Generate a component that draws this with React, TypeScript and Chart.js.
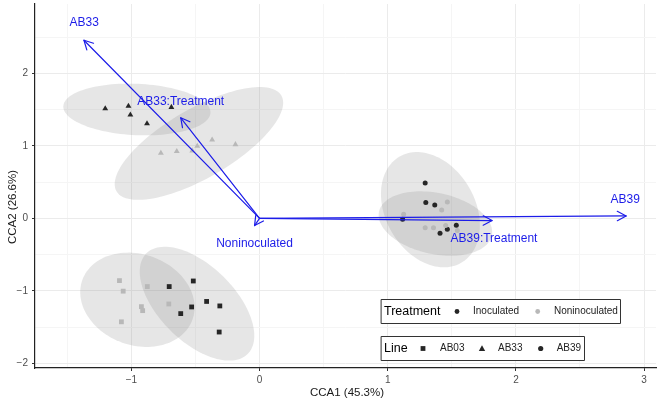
import React, { useEffect, useRef } from 'react';
import { Chart, registerables } from 'chart.js';

Chart.register(...registerables);

const FONT = '"Liberation Sans", Arial, Helvetica, sans-serif';

// ---- Axis ranges / tick labels ----
const X_MIN = -1.752;
const X_MAX = 3.093;
const Y_MIN = -2.064;
const Y_MAX = 2.956;
const X_TITLE = 'CCA1 (45.3%)';
const Y_TITLE = 'CCA2 (26.6%)';

// ---- Site scores (CCA1, CCA2) ----
// Line AB03 (squares)
const ab03InocX = [-0.705, -0.517, -0.413, -0.31, -0.53, -0.615, -0.315];
const ab03InocY = [-0.941, -0.864, -1.146, -1.208, -1.222, -1.314, -1.568];
const ab03NonX = [-1.093, -1.064, -0.876, -0.922, -0.912, -0.708, -1.078];
const ab03NonY = [-0.859, -1.004, -0.941, -1.218, -1.273, -1.181, -1.427];
// Line AB33 (triangles)
const ab33InocX = [-1.204, -1.023, -1.008, -0.878, -0.688];
const ab33InocY = [1.514, 1.547, 1.428, 1.306, 1.533];
const ab33NonX = [-0.77, -0.646, -0.525, -0.486, -0.37, -0.188];
const ab33NonY = [0.9, 0.924, 0.933, 0.996, 1.083, 1.019];
// Line AB39 (circles)
const ab39InocX = [1.292, 1.297, 1.367, 1.116, 1.535, 1.465, 1.408];
const ab39InocY = [0.487, 0.218, 0.183, -0.014, -0.095, -0.15, -0.205];
const ab39NonX = [1.465, 1.421, 1.124, 1.292, 1.357, 1.452, 1.543];
const ab39NonY = [0.224, 0.115, 0.055, -0.131, -0.131, -0.1, -0.168];

// ---- Biplot arrows ----
const arrowNames = ['AB33', 'AB33:Treatment', 'AB39', 'AB39:Treatment', 'Noninoculated'];
const arrowX = [-1.37, -0.615, 2.86, 1.814, -0.039];
const arrowY = [2.456, 1.387, 0.033, -0.031, -0.1];
const labelX = [-1.368, -0.615, 2.853, 1.829, -0.039];
const labelY = [2.697, 1.615, 0.259, -0.277, -0.355];

// ---- Confidence ellipses: centre and two half-axis vectors (data units) ----
const ellCX = [-0.957, -0.473, 1.333, 1.372, -0.953, -0.488];
const ellCY = [1.501, 1.033, 0.119, -0.072, -1.123, -1.177];
const ellAX = [0.574, 0.643, 0.24, 0.44, 0.429, 0.395];
const ellAY = [-0.045, 0.66, -0.733, -0.165, -0.276, -0.694];
const ellBX = [-0.009, 0.136, -0.302, -0.05, -0.122, -0.209];
const ellBY = [-0.354, -0.412, -0.307, -0.413, -0.589, -0.367];

// ---- Legend texts ----
const treatmentTitle = 'Treatment';
const treatmentLabels = ['Inoculated', 'Noninoculated'];
const lineTitle = 'Line';
const lineLabels = ['AB03', 'AB33', 'AB39'];

const DARK = '#262626';
const LIGHT = '#b8b8b8';
const BLUE = 'rgb(28,28,232)';

function pts(xs: number[], ys: number[]) {
  return xs.map((x, i) => ({ x, y: ys[i] }));
}

function ds(xs: number[], ys: number[], color: string, style: string, r: number) {
  return {
    data: pts(xs, ys),
    pointStyle: style,
    pointRadius: r,
    pointBackgroundColor: color,
    pointBorderColor: color,
    pointBorderWidth: 0,
    showLine: false,
  };
}

const overlayPlugin = {
  id: 'overlay',
  beforeDatasetsDraw(chart: any) {
    const ctx = chart.ctx;
    const xs = chart.scales.x;
    const ys = chart.scales.y;
    const area = chart.chartArea;
    ctx.save();
    ctx.beginPath();
    ctx.rect(area.left, area.top, area.right - area.left, area.bottom - area.top);
    ctx.clip();
    for (let i = 0; i < ellCX.length; i++) {
      ctx.beginPath();
      const n = 120;
      for (let k = 0; k <= n; k++) {
        const t = (k / n) * Math.PI * 2;
        const vx = ellCX[i] + Math.cos(t) * ellAX[i] + Math.sin(t) * ellBX[i];
        const vy = ellCY[i] + Math.cos(t) * ellAY[i] + Math.sin(t) * ellBY[i];
        const px = xs.getPixelForValue(vx);
        const py = ys.getPixelForValue(vy);
        if (k === 0) ctx.moveTo(px, py);
        else ctx.lineTo(px, py);
      }
      ctx.closePath();
      ctx.fillStyle = 'rgba(128,128,128,0.2)';
      ctx.fill();
    }
    ctx.restore();
  },
  afterDatasetsDraw(chart: any) {
    const ctx = chart.ctx;
    const xs = chart.scales.x;
    const ys = chart.scales.y;
    const ox = xs.getPixelForValue(0);
    const oy = ys.getPixelForValue(0);
    ctx.save();
    // arrows
    ctx.strokeStyle = BLUE;
    ctx.lineWidth = 1.2;
    ctx.lineCap = 'round';
    ctx.lineJoin = 'round';
    for (let i = 0; i < arrowX.length; i++) {
      const tx = xs.getPixelForValue(arrowX[i]);
      const ty = ys.getPixelForValue(arrowY[i]);
      ctx.beginPath();
      ctx.moveTo(ox, oy);
      ctx.lineTo(tx, ty);
      ctx.stroke();
      const ang = Math.atan2(ty - oy, tx - ox);
      const len = 10;
      const spread = (28 * Math.PI) / 180;
      ctx.beginPath();
      ctx.moveTo(tx - len * Math.cos(ang - spread), ty - len * Math.sin(ang - spread));
      ctx.lineTo(tx, ty);
      ctx.lineTo(tx - len * Math.cos(ang + spread), ty - len * Math.sin(ang + spread));
      ctx.stroke();
    }
    // arrow labels
    ctx.fillStyle = BLUE;
    ctx.font = `12px ${FONT}`;
    ctx.textAlign = 'center';
    ctx.textBaseline = 'middle';
    for (let i = 0; i < arrowNames.length; i++) {
      ctx.fillText(arrowNames[i], xs.getPixelForValue(labelX[i]), ys.getPixelForValue(labelY[i]));
    }

    // legends
    const drawBox = (x: number, y: number, w: number, h: number) => {
      ctx.fillStyle = '#ffffff';
      ctx.fillRect(x, y, w, h);
      ctx.strokeStyle = '#333333';
      ctx.lineWidth = 1;
      ctx.strokeRect(x + 0.5, y + 0.5, w, h);
    };
    ctx.textAlign = 'left';
    ctx.textBaseline = 'middle';
    // Treatment legend
    drawBox(381, 299, 239, 24);
    let cy = 311.5;
    ctx.fillStyle = '#000';
    ctx.font = `12.5px ${FONT}`;
    ctx.fillText(treatmentTitle, 384, cy);
    ctx.font = `10px ${FONT}`;
    ctx.fillStyle = DARK;
    ctx.beginPath();
    ctx.arc(457, cy, 2.4, 0, Math.PI * 2);
    ctx.fill();
    ctx.fillStyle = '#222';
    ctx.fillText(treatmentLabels[0], 473, cy);
    ctx.fillStyle = LIGHT;
    ctx.beginPath();
    ctx.arc(537.7, cy, 2.4, 0, Math.PI * 2);
    ctx.fill();
    ctx.fillStyle = '#222';
    ctx.fillText(treatmentLabels[1], 554, cy);
    // Line legend
    drawBox(381, 336, 203, 24);
    cy = 348.5;
    ctx.fillStyle = '#000';
    ctx.font = `12.5px ${FONT}`;
    ctx.fillText(lineTitle, 384, cy);
    ctx.font = `10px ${FONT}`;
    ctx.fillStyle = DARK;
    ctx.fillRect(423 - 2.4, cy - 2.4, 4.8, 4.8);
    ctx.beginPath();
    ctx.moveTo(482, cy - 3.2);
    ctx.lineTo(485.2, cy + 2.4);
    ctx.lineTo(478.8, cy + 2.4);
    ctx.closePath();
    ctx.fill();
    ctx.beginPath();
    ctx.arc(540.7, cy, 2.6, 0, Math.PI * 2);
    ctx.fill();
    ctx.fillStyle = '#222';
    ctx.fillText(lineLabels[0], 440, cy);
    ctx.fillText(lineLabels[1], 498, cy);
    ctx.fillText(lineLabels[2], 556.7, cy);

    // axis titles
    ctx.fillStyle = '#1a1a1a';
    ctx.font = `11.5px ${FONT}`;
    ctx.textAlign = 'center';
    ctx.textBaseline = 'middle';
    ctx.fillText(X_TITLE, 347, 393);
    ctx.translate(13, 207);
    ctx.rotate(-Math.PI / 2);
    ctx.fillText(Y_TITLE, 0, 0);
    ctx.restore();
  },
};

function fmt(v: number) {
  if (Math.abs(v - Math.round(v)) > 1e-9) return '';
  const r = Math.round(v);
  return r < 0 ? '\u2212' + Math.abs(r) : String(r);
}

function isMajor(ctx: any) {
  const v = ctx && ctx.tick ? ctx.tick.value : 0;
  return Math.abs(v - Math.round(v)) < 1e-9;
}

export default function App() {
  const ref = useRef<HTMLCanvasElement>(null);
  useEffect(() => {
    const canvas = ref.current!;
    const chart = new Chart(canvas, {
      type: 'scatter',
      data: {
        datasets: [
          ds(ab03NonX, ab03NonY, LIGHT, 'rect', 3.4),
          ds(ab33NonX, ab33NonY, LIGHT, 'triangle', 3.4),
          ds(ab39NonX, ab39NonY, LIGHT, 'circle', 2.5),
          ds(ab03InocX, ab03InocY, DARK, 'rect', 3.4),
          ds(ab33InocX, ab33InocY, DARK, 'triangle', 3.4),
          ds(ab39InocX, ab39InocY, DARK, 'circle', 2.5),
        ] as any,
      },
      options: {
        responsive: false,
        maintainAspectRatio: false,
        animation: false,
        devicePixelRatio: 1,
        layout: { padding: 0 },
        plugins: {
          legend: { display: false },
          tooltip: { enabled: false },
        },
        scales: {
          x: {
            type: 'linear',
            min: X_MIN,
            max: X_MAX,
            ticks: {
              stepSize: 0.5,
              includeBounds: false,
              autoSkip: false,
              maxRotation: 0,
              padding: 3,
              color: '#4d4d4d',
              font: { size: 10, family: FONT },
              callback: (v: any) => fmt(Number(v)),
            },
            grid: {
              color: (c: any) => (isMajor(c) ? '#ebebeb' : '#f5f5f5'),
              tickColor: (c: any) => (isMajor(c) ? '#333333' : 'rgba(0,0,0,0)'),
              tickLength: 3,
              lineWidth: 1,
            },
            border: { display: true, color: '#222222', width: 1.2 },
            afterFit: (s: any) => {
              s.height = 39;
              s.paddingLeft = 0;
              s.paddingRight = 0;
            },
          },
          y: {
            type: 'linear',
            min: Y_MIN,
            max: Y_MAX,
            ticks: {
              stepSize: 0.5,
              includeBounds: false,
              autoSkip: false,
              padding: 4,
              color: '#4d4d4d',
              font: { size: 10, family: FONT },
              callback: (v: any) => fmt(Number(v)),
            },
            grid: {
              color: (c: any) => (isMajor(c) ? '#ebebeb' : '#f5f5f5'),
              tickColor: (c: any) => (isMajor(c) ? '#333333' : 'rgba(0,0,0,0)'),
              tickLength: 3,
              lineWidth: 1,
            },
            border: { display: true, color: '#222222', width: 1.2 },
            afterFit: (s: any) => {
              s.width = 35;
              s.paddingTop = 0;
              s.paddingBottom = 0;
            },
          },
        },
      } as any,
      plugins: [overlayPlugin],
    });
    return () => chart.destroy();
  }, []);
  return (
    <div style={{ position: 'absolute', left: 0, top: 0, width: 660, height: 407, background: '#ffffff' }}>
      <canvas ref={ref} width={660} height={407} style={{ display: 'block' }} />
    </div>
  );
}
